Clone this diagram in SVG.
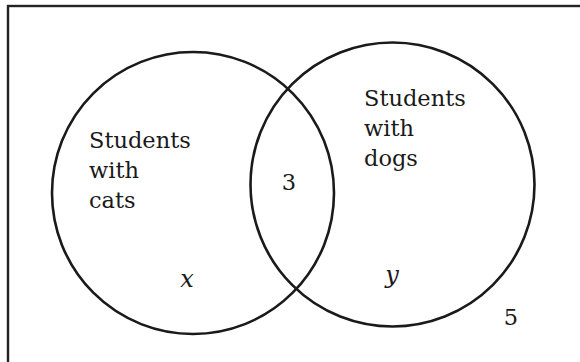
<svg xmlns="http://www.w3.org/2000/svg" width="580" height="362" viewBox="0 0 580 362">
<style>
.c{fill:none;stroke:#1a1a1a;stroke-width:2.6}
.t{font-family:"DejaVu Serif","Liberation Serif",serif;font-size:22.5px;fill:#1a1a1a}
.i{font-family:"DejaVu Serif","Liberation Serif",serif;font-size:24px;font-style:italic;fill:#1a1a1a}
</style>
<rect x="0" y="0" width="580" height="362" fill="#fff"/>
<rect x="8" y="6" width="620" height="420" fill="none" stroke="#222" stroke-width="2.4"/>
<g id="cats">
<circle class="c" cx="193" cy="193" r="141"/>
<text class="t" x="89" y="148">Students</text>
<text class="t" x="89" y="178">with</text>
<text class="t" x="89" y="208">cats</text>
</g>
<g id="dogs">
<circle class="c" cx="392.5" cy="184.5" r="142"/>
<text class="t" x="364" y="106">Students</text>
<text class="t" x="364" y="136">with</text>
<text class="t" x="364" y="166">dogs</text>
</g>
<g id="labels">
<text class="t" x="289" y="190" text-anchor="middle">3</text>
<text class="i" x="187" y="287" text-anchor="middle">x</text>
<text class="i" x="392" y="283" text-anchor="middle">y</text>
<text class="t" x="511" y="325" text-anchor="middle">5</text>
</g>
</svg>
